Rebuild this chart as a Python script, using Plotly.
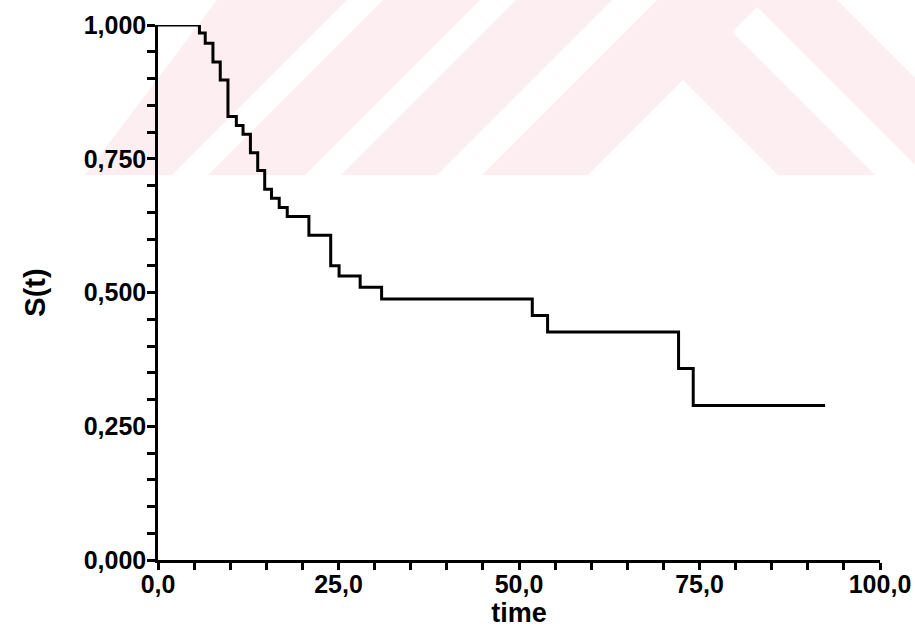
import plotly.graph_objects as go

# Kaplan-Meier style survival estimate
time = [0.0, 5.74, 6.54, 7.61, 8.62, 9.69, 10.85, 11.78, 12.80, 13.81, 14.78,
        15.72, 16.79, 17.90, 20.90, 23.92, 25.08, 28.00, 30.97, 51.84, 53.96,
        72.10, 74.13, 92.40]
surv = [1.000, 0.985, 0.966, 0.931, 0.897, 0.829, 0.812, 0.796, 0.761, 0.728,
        0.693, 0.676, 0.659, 0.642, 0.607, 0.550, 0.531, 0.510, 0.488, 0.457,
        0.426, 0.358, 0.289, 0.289]

x_ticks = [0, 25, 50, 75, 100]
y_ticks = [0, 0.25, 0.5, 0.75, 1.0]

W, H = 915, 634
L, R, T, B = 158, 35, 25, 74
PW, PH = W - L - R, H - T - B


def px(xp, yp):
    return (xp - L) / PW, (H - B - yp) / PH


def poly(points, color):
    pts = [px(a, b) for a, b in points]
    path = "M " + " L ".join(f"{a:.4f},{b:.4f}" for a, b in pts) + " Z"
    return dict(type="path", xref="paper", yref="paper", path=path,
                fillcolor=color, line=dict(width=0), layer="below")


PINK = "#fdeef1"
WHITE = "#ffffff"
shapes = [
    poly([(217, 0), (915, 0), (915, 175), (85, 175)], PINK),
    poly([(347, 0), (383, 0), (208, 175), (172, 175)], WHITE),
    poly([(480, 0), (516, 0), (341, 175), (305, 175)], WHITE),
    poly([(612, 0), (657, 0), (482, 175), (437, 175)], WHITE),
    poly([(588, 175), (683, 80), (778, 175)], WHITE),
    poly([(732, 32), (757, 7), (915, 165), (915, 175), (875, 175)], WHITE),
    poly([(837, 0), (915, 0), (915, 78)], WHITE),
]

FONT = "Liberation Sans, Arial, sans-serif"

fig = go.Figure()
fig.add_trace(go.Scatter(x=time, y=surv, mode="lines", line_shape="hv",
                         line=dict(color="black", width=3), showlegend=False,
                         cliponaxis=False))

fig.update_layout(
    width=W, height=H,
    margin=dict(l=L, r=R, t=T, b=B, autoexpand=False),
    paper_bgcolor="white", plot_bgcolor="rgba(0,0,0,0)",
    separators=",.",
    shapes=shapes,
    font=dict(family=FONT, color="black"),
)
fig.update_xaxes(
    range=[0, 100], tickvals=x_ticks, tickformat=".1f", automargin=False,
    showline=True, linecolor="black", linewidth=2.5,
    ticks="outside", ticklen=7, tickwidth=2.5, tickcolor="black",
    minor=dict(dtick=5, ticks="outside", ticklen=7, tickwidth=2.5, tickcolor="black"),
    showgrid=False, zeroline=False, ticklabelstandoff=-7,
    tickfont=dict(family=FONT, size=25, color="black", weight="bold"),
    title=dict(text="time", standoff=0,
               font=dict(family=FONT, size=27, color="black", weight="bold")),
)
fig.update_yaxes(
    range=[0, 1], tickvals=y_ticks, tickformat=".3f", automargin=False,
    showline=True, linecolor="black", linewidth=2.5,
    ticks="outside", ticklen=8, tickwidth=2.5, tickcolor="black",
    minor=dict(dtick=0.05, ticks="outside", ticklen=8, tickwidth=2.5, tickcolor="black"),
    showgrid=False, zeroline=False, ticklabelstandoff=-4,
    tickfont=dict(family=FONT, size=25, color="black", weight="bold"),
    title=dict(text="S(t)", standoff=30,
               font=dict(family=FONT, size=29, color="black", weight="bold")),
)

fig.write_html("out.html")
